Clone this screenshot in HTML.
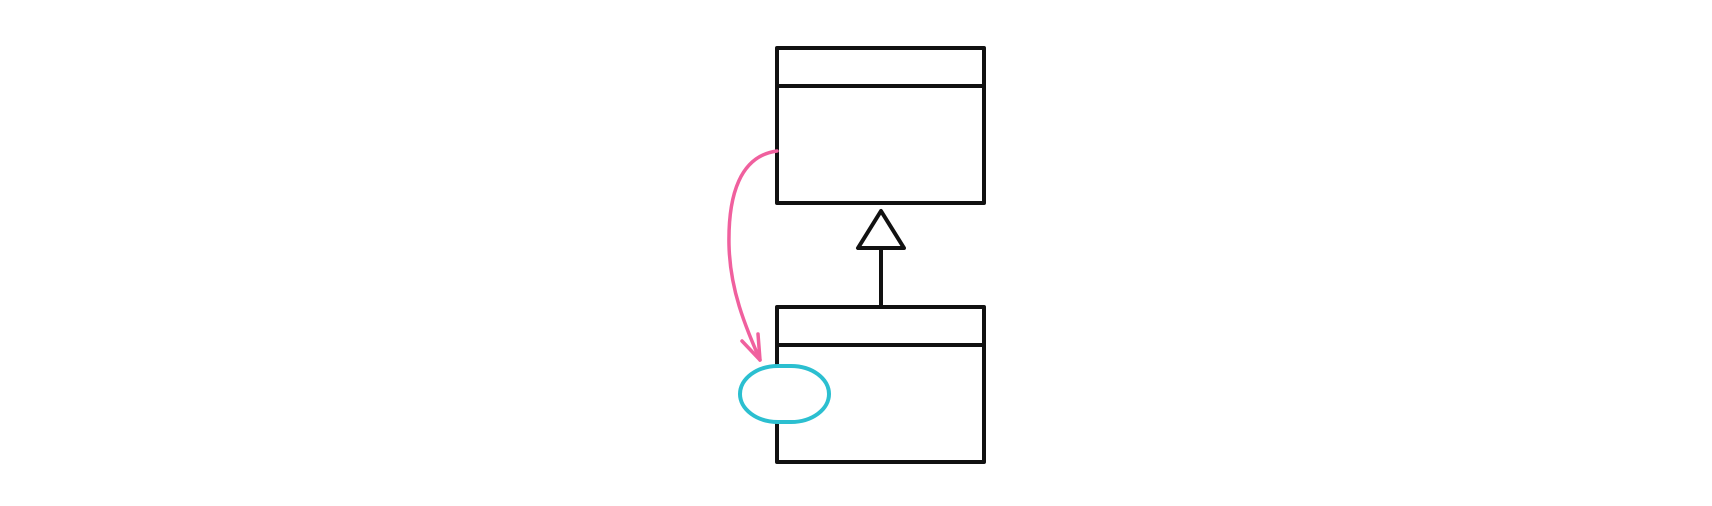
<!DOCTYPE html>
<html><head><style>html,body{margin:0;padding:0;background:#fff;width:1712px;height:506px;overflow:hidden}</style></head>
<body>
<svg width="1712" height="506" viewBox="0 0 1712 506" xmlns="http://www.w3.org/2000/svg">
<g fill="none" stroke="#111" stroke-width="4" stroke-linejoin="round">
<rect x="777" y="48" width="207" height="155"/>
<line x1="777" y1="86" x2="984" y2="86"/>
<rect x="777" y="307" width="207" height="155"/>
<line x1="777" y1="345" x2="984" y2="345"/>
<line x1="881" y1="248" x2="881" y2="307"/>
<polygon points="881,211 858,248 904,248" fill="#fff"/>
</g>
<path d="M777,151 C740,156 728,195 729,245 C730,290 745,325 760,360" fill="none" stroke="#f0609e" stroke-width="3.5" stroke-linecap="round"/>
<path d="M742,341 L760,360 L758,334" fill="none" stroke="#f0609e" stroke-width="3.5" stroke-linecap="round" stroke-linejoin="round"/>
<rect x="740" y="366" width="89" height="56" rx="38" ry="28" fill="#fff" stroke="#2bbfd0" stroke-width="4"/>
</svg>
</body></html>
